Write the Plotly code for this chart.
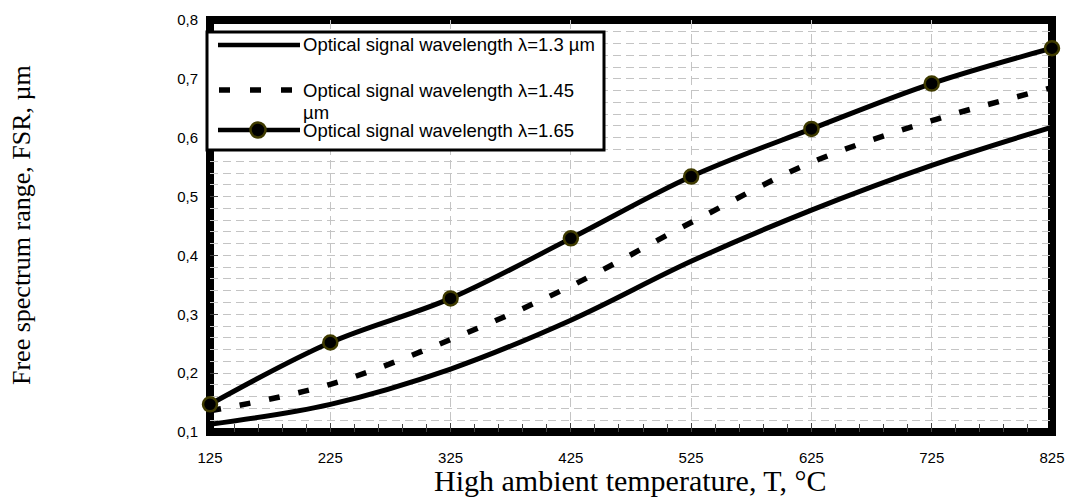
import plotly.graph_objects as go

# ---- data ----
temperature = [125, 225, 325, 425, 525, 625, 725, 825]
fsr_13 = [0.113, 0.147, 0.207, 0.290, 0.390, 0.477, 0.553, 0.618]
fsr_145 = [0.136, 0.181, 0.257, 0.348, 0.456, 0.558, 0.629, 0.685]
fsr_165 = [0.147, 0.252, 0.327, 0.429, 0.534, 0.615, 0.692, 0.752]

series_names = [
    "Optical signal wavelength λ=1.3 µm",
    "Optical signal wavelength λ=1.45 µm",
    "Optical signal wavelength λ=1.65",
]
x_ticks = [125, 225, 325, 425, 525, 625, 725, 825]
y_ticks = [0.1, 0.2, 0.3, 0.4, 0.5, 0.6, 0.7, 0.8]
y_ticktext = ["0,1", "0,2", "0,3", "0,4", "0,5", "0,6", "0,7", "0,8"]
x_title = "High ambient temperature, T, °C"
y_title = "Free spectrum range, FSR, µm"

# ---- layout geometry (screen pixels) ----
W, H = 1066, 497
PL, PR, PT, PB = 210, 1052, 20, 432          # plot area in screen pixels
L, R, T, B = PL, W - PR, PT, H - PB
PW, PH = PR - PL, PB - PT


def px(x):
    return (x - PL) / PW


def py(y):
    return (PB - y) / PH


SANS = "Arial, Liberation Sans, sans-serif"
SERIF = "Times New Roman, Liberation Serif, serif"
OLIVE = "#3f3b00"

fig = go.Figure()
fig.add_trace(go.Scatter(
    x=temperature, y=fsr_13, name=series_names[0], mode="lines",
    line=dict(color="black", width=5, shape="spline"), cliponaxis=False))
fig.add_trace(go.Scatter(
    x=temperature, y=fsr_145, name=series_names[1], mode="lines",
    line=dict(color="black", width=5.5, shape="spline", dash="11px,19px"),
    cliponaxis=False))
fig.add_trace(go.Scatter(
    x=temperature, y=fsr_165, name=series_names[2], mode="lines+markers",
    line=dict(color="black", width=5, shape="spline"),
    marker=dict(size=14, color="black", line=dict(color=OLIVE, width=2.5)),
    cliponaxis=False))

shapes = []
# plot frame
shapes.append(dict(type="rect", xref="paper", yref="paper", x0=0, x1=1, y0=0, y1=1,
                   line=dict(color="black", width=8), layer="between"))
# legend box
lx0, lx1, ly0, ly1 = 207, 604, 32, 150
shapes.append(dict(type="rect", xref="paper", yref="paper",
                   x0=px(lx0), x1=px(lx1), y0=py(ly1), y1=py(ly0),
                   line=dict(color="black", width=3), fillcolor="white", layer="above"))
rows = [45, 90, 130]
shapes.append(dict(type="line", xref="paper", yref="paper", x0=px(218), x1=px(300),
                   y0=py(rows[0]), y1=py(rows[0]), line=dict(color="black", width=4.5),
                   layer="above"))
shapes.append(dict(type="line", xref="paper", yref="paper", x0=px(219), x1=px(300),
                   y0=py(rows[1]), y1=py(rows[1]),
                   line=dict(color="black", width=5.5, dash="11px,20px"), layer="above"))
shapes.append(dict(type="line", xref="paper", yref="paper", x0=px(218), x1=px(300),
                   y0=py(rows[2]), y1=py(rows[2]), line=dict(color="black", width=4.5),
                   layer="above"))
shapes.append(dict(type="circle", xref="paper", yref="paper",
                   x0=px(250.5), x1=px(265.5), y0=py(137.5), y1=py(122.5),
                   fillcolor="black", line=dict(color=OLIVE, width=2.5), layer="above"))

annotations = []
leg_texts = [(series_names[0], rows[0]),
             ("Optical signal wavelength λ=1.45", rows[1]),
             ("µm", 112),
             (series_names[2], rows[2])]
for txt, yy in leg_texts:
    annotations.append(dict(text=txt, xref="paper", yref="paper", x=px(301), y=py(yy),
                            xanchor="left", yanchor="middle", showarrow=False,
                            font=dict(family=SANS, size=18.5, color="black")))
annotations.append(dict(text=x_title, xref="paper", yref="paper", x=px(630), y=py(480),
                        xanchor="center", yanchor="middle", showarrow=False,
                        font=dict(family=SERIF, size=30, color="black")))
annotations.append(dict(text=y_title, xref="paper", yref="paper", x=px(21), y=py(225),
                        xanchor="center", yanchor="middle", showarrow=False, textangle=-90,
                        font=dict(family=SERIF, size=26, color="black")))

grid_col = "#c4c4c4"
fig.update_layout(
    width=W, height=H,
    margin=dict(l=L, r=R, t=T, b=B, pad=0),
    paper_bgcolor="white", plot_bgcolor="white",
    showlegend=False,
    shapes=shapes, annotations=annotations,
    xaxis=dict(range=[125, 825], tickvals=x_ticks, ticktext=[str(v) for v in x_ticks],
               showgrid=True, gridcolor=grid_col, gridwidth=1, griddash="9px,5px",
               zeroline=False, showline=False, automargin=False,
               ticks="inside", ticklen=9, tickcolor="#444", tickwidth=1,
               ticklabelstandoff=15,
               tickfont=dict(family=SANS, size=15, color="black"),
               minor=dict(dtick=20, tick0=125, ticks="inside", ticklen=8,
                          tickcolor="#444", showgrid=False)),
    yaxis=dict(range=[0.1, 0.8], tickvals=y_ticks, ticktext=y_ticktext,
               showgrid=True, gridcolor=grid_col, gridwidth=1, griddash="8px,5px",
               zeroline=False, showline=False, automargin=False,
               ticks="inside", ticklen=8, tickcolor="#444", tickwidth=1,
               ticklabelstandoff=11,
               tickfont=dict(family=SANS, size=15, color="black"),
               minor=dict(dtick=0.02, tick0=0.1, showgrid=True, gridcolor=grid_col,
                          gridwidth=1, griddash="8px,5px")),
)

# remove the default 8px page margin so the figure sits at the window's corner
fig.write_html(
    "out.html",
    config={"displayModeBar": False},
    post_script="document.body.style.margin='0';document.body.style.padding='0';"
                "document.documentElement.style.overflow='hidden';",
)
